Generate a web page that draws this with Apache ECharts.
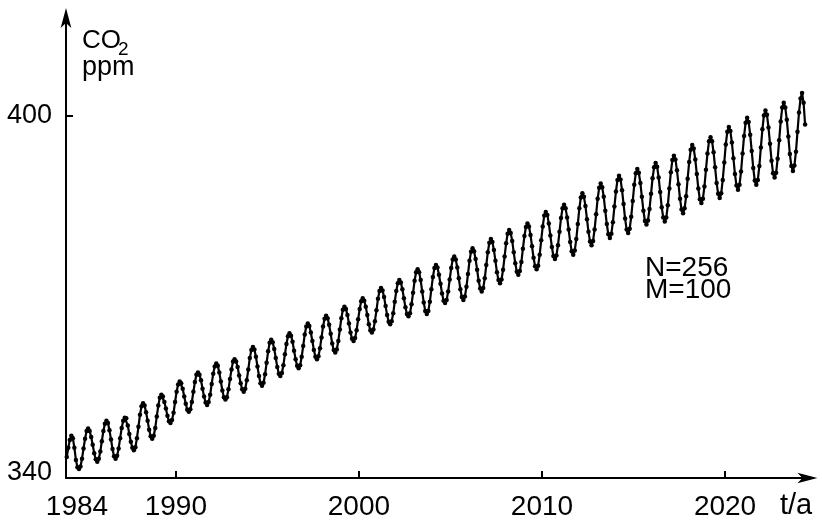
<!DOCTYPE html>
<html><head><meta charset="utf-8">
<script src="https://cdn.jsdelivr.net/npm/echarts@6/dist/echarts.min.js"></script>
<style>html,body{margin:0;padding:0;background:#fff}#c{width:822px;height:523px}</style>
</head><body><div id="c"></div>
<script>
// monthly CO2 (ppm), Jan..Dec per row
const startYear = 1984;
const co2_1984_1989 = [
343.5, 345.0, 346.3, 347.0, 346.6, 345.0, 343.0, 341.8, 341.5, 341.9, 343.2, 344.9,
346.5, 347.8, 348.2, 347.8, 346.8, 345.5, 344.1, 343.1, 342.7, 343.2, 344.4, 346.1,
347.8, 349.0, 349.5, 349.1, 347.9, 346.4, 344.8, 343.6, 343.2, 343.7, 344.9, 346.6,
348.3, 349.5, 350.0, 349.9, 348.7, 347.3, 346.0, 345.0, 344.6, 345.1, 346.6, 348.5,
350.5, 351.9, 352.4, 352.0, 350.9, 349.5, 348.0, 346.9, 346.5, 347.0, 348.3, 350.2,
352.0, 353.3, 353.8, 353.5, 352.6, 351.5, 350.3, 349.4, 349.1, 349.6, 350.8, 352.6
];
const co2_1990s = [
354.3, 355.5, 356.0, 355.7, 354.8, 353.5, 352.3, 351.3, 351.0, 351.4, 352.6, 354.3,
355.9, 357.1, 357.5, 357.1, 356.2, 354.8, 353.5, 352.5, 352.1, 352.6, 353.8, 355.6,
357.3, 358.5, 359.0, 358.6, 357.5, 356.0, 354.5, 353.4, 353.0, 353.4, 354.7, 356.4,
358.0, 359.3, 359.7, 359.3, 358.4, 357.0, 355.7, 354.7, 354.3, 354.8, 356.2, 358.0,
359.9, 361.2, 361.7, 361.3, 360.1, 358.5, 356.9, 355.7, 355.3, 355.8, 357.2, 359.1,
361.0, 362.4, 362.9, 362.5, 361.4, 359.9, 358.4, 357.3, 356.9, 357.4, 358.7, 360.5,
362.2, 363.5, 364.0, 363.6, 362.6, 361.1, 359.7, 358.6, 358.2, 358.7, 360.1, 361.9,
363.8, 365.1, 365.6, 365.2, 364.1, 362.7, 361.2, 360.1, 359.7, 360.2, 361.5, 363.3,
365.1, 366.4, 366.9, 366.5, 365.4, 363.9, 362.3, 361.2, 360.8, 361.3, 362.7, 364.6,
366.5, 367.9, 368.4, 368.0, 367.0, 365.6, 364.1, 363.1, 362.7, 363.2, 364.5, 366.3
];
const co2_2000s = [
368.0, 369.3, 369.8, 369.4, 368.4, 367.0, 365.5, 364.5, 364.1, 364.6, 366.0, 367.8,
369.7, 371.0, 371.5, 371.1, 370.0, 368.5, 367.0, 365.9, 365.5, 366.0, 367.3, 369.2,
371.0, 372.3, 372.8, 372.4, 371.3, 369.8, 368.3, 367.2, 366.8, 367.3, 368.8, 370.7,
372.7, 374.1, 374.6, 374.1, 372.8, 370.9, 369.1, 367.7, 367.2, 367.7, 369.2, 371.3,
373.3, 374.8, 375.3, 374.9, 373.7, 372.2, 370.6, 369.4, 369.0, 369.5, 370.9, 372.9,
374.8, 376.2, 376.7, 376.2, 374.9, 373.1, 371.3, 370.0, 369.5, 370.1, 371.7, 373.8,
376.0, 377.5, 378.1, 377.6, 376.3, 374.5, 372.7, 371.4, 370.9, 371.5, 373.1, 375.3,
377.4, 379.0, 379.6, 379.1, 377.8, 376.0, 374.1, 372.8, 372.3, 372.9, 374.5, 376.7,
378.9, 380.5, 381.1, 380.6, 379.3, 377.4, 375.6, 374.2, 373.7, 374.3, 375.8, 378.0,
380.1, 381.6, 382.2, 381.7, 380.3, 378.4, 376.5, 375.1, 374.6, 375.2, 377.0, 379.4
];
const co2_2010s = [
381.7, 383.5, 384.1, 383.6, 382.2, 380.2, 378.3, 376.8, 376.3, 376.9, 378.6, 380.8,
383.1, 384.7, 385.3, 384.7, 383.2, 381.2, 379.1, 377.6, 377.0, 377.7, 379.6, 382.1,
384.7, 386.5, 387.2, 386.6, 385.1, 382.9, 380.8, 379.2, 378.6, 379.3, 381.2, 383.7,
386.3, 388.1, 388.8, 388.2, 386.6, 384.3, 382.1, 380.4, 379.8, 380.5, 382.4, 385.0,
387.5, 389.4, 390.1, 389.5, 387.7, 385.4, 383.0, 381.2, 380.6, 381.3, 383.3, 385.9,
388.6, 390.5, 391.2, 390.6, 388.9, 386.6, 384.3, 382.6, 382.0, 382.7, 384.6, 387.1,
389.7, 391.5, 392.2, 391.6, 389.8, 387.4, 384.9, 383.2, 382.5, 383.2, 385.2, 388.0,
390.7, 392.7, 393.4, 392.8, 391.0, 388.7, 386.3, 384.5, 383.9, 384.7, 386.7, 389.6,
392.4, 394.4, 395.2, 394.6, 392.8, 390.4, 388.0, 386.2, 385.6, 386.3, 388.3, 391.1,
393.8, 395.8, 396.5, 395.8, 394.0, 391.5, 388.9, 387.1, 386.4, 387.2, 389.4, 392.3
];
const co2_2020s = [
395.3, 397.4, 398.2, 397.5, 395.6, 393.0, 390.4, 388.5, 387.8, 388.6, 390.8, 393.8,
396.7, 398.9, 399.7, 399.0, 396.9, 394.2, 391.4, 389.3, 388.6, 389.4, 391.7, 394.8,
397.8, 400.1, 400.9, 400.2, 398.1, 395.4, 392.6, 390.5, 389.8, 390.6, 392.9, 396.0,
399.1, 401.4, 402.2, 401.4, 399.4, 396.6, 393.7, 391.7, 390.9, 391.8, 394.1, 397.4,
400.6, 402.9, 403.8, 402.2, 398.6
];
const xLabelYears = [1984, 1990, 2000, 2010, 2020];
const xTickYears = [1990, 2000, 2010, 2020];
const yLabelValues = [340, 400];
const yTickValues = [400];

const values = [].concat(co2_1984_1989, co2_1990s, co2_2000s, co2_2010s, co2_2020s);
const seriesData = values.map((v, i) => [startYear + (i + 0.5) / 12, v]);

const FONT = 'Liberation Sans';
const chart = echarts.init(document.getElementById('c'), null, {renderer: 'canvas'});
chart.setOption({
  animation: false,
  backgroundColor: '#fff',
  grid: {left: 66, right: 14.6, top: 18, bottom: 45, containLabel: false},
  xAxis: {
    type: 'value', min: 1984, max: 2024.5,
    axisLine: {show: true, lineStyle: {color: '#000', width: 2}, symbol: ['none', 'arrow'], symbolSize: [8, 20], symbolOffset: [0, 10]},
    axisTick: {show: true, inside: true, length: 7, lineStyle: {color: '#000', width: 2}, customValues: xTickYears},
    axisLabel: {
      customValues: xLabelYears, fontSize: 28, fontFamily: FONT, color: '#000', margin: 15,
      formatter: v => v === 1984 ? '{f|1984}' : String(v),
      rich: {f: {fontSize: 28, fontFamily: FONT, color: '#000', padding: [0, 0, 0, 22]}}
    },
    splitLine: {show: false}
  },
  yAxis: {
    type: 'value', min: 340, max: 416.25,
    axisLine: {show: true, lineStyle: {color: '#000', width: 2}, symbol: ['none', 'arrow'], symbolSize: [8, 20], symbolOffset: [0, 10]},
    axisTick: {show: true, inside: true, length: 7, lineStyle: {color: '#000', width: 2}, customValues: yTickValues},
    axisLabel: {
      customValues: yLabelValues, fontSize: 27, fontFamily: FONT, color: '#000', margin: 14,
      formatter: v => v === 340 ? '{l|340}' : String(v),
      rich: {l: {fontSize: 27, fontFamily: FONT, color: '#000', padding: [0, 0, 10, 0]}}
    },
    splitLine: {show: false}
  },
  series: [{
    type: 'line', data: seriesData, symbol: 'circle', symbolSize: 4.5, showAllSymbol: true,
    lineStyle: {color: '#000', width: 2.2}, itemStyle: {color: '#000'}, z: 3
  }],
  graphic: [
    {type: 'text', x: 82, y: 41, style: {text: 'CO', fontSize: 26, fontFamily: FONT, fill: '#000', verticalAlign: 'middle'}},
    {type: 'text', x: 118, y: 50, style: {text: '2', fontSize: 19, fontFamily: FONT, fill: '#000', verticalAlign: 'middle'}},
    {type: 'text', x: 82, y: 67.5, style: {text: 'ppm', fontSize: 27, fontFamily: FONT, fill: '#000', verticalAlign: 'middle'}},
    {type: 'text', x: 645, y: 268.5, style: {text: 'N=256', fontSize: 28, fontFamily: FONT, fill: '#000', verticalAlign: 'middle'}},
    {type: 'text', x: 645, y: 290.5, style: {text: 'M=100', fontSize: 28, fontFamily: FONT, fill: '#000', verticalAlign: 'middle'}},
    {type: 'text', x: 780, y: 506, style: {text: 't/a', fontSize: 29, fontFamily: FONT, fill: '#000', verticalAlign: 'middle'}}
  ]
});
</script>
</body></html>
